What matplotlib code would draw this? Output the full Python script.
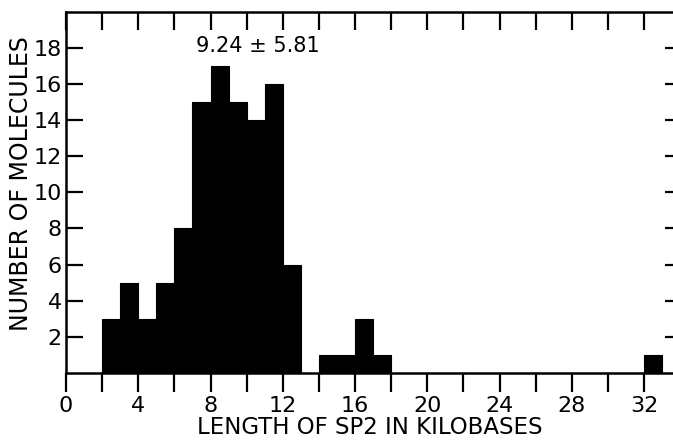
import numpy as np
import matplotlib
matplotlib.use("Agg")
import matplotlib.pyplot as plt

# histogram data (1 kb bins, left edges)
bin_left = [2, 3, 4, 5, 6, 7, 8, 9, 10, 11, 12, 14, 15, 16, 17, 32]
counts = [3, 5, 3, 5, 8, 15, 17, 15, 14, 16, 6, 1, 1, 3, 1, 1]

x_ticks = list(range(0, 34, 2))
x_labels = [str(t) if t % 4 == 0 else "" for t in x_ticks]
y_ticks = list(range(2, 20, 2))
y_labels = [str(t) for t in y_ticks]

plt.rcParams['font.family'] = ['DejaVu Sans']

fig = plt.figure(figsize=(6.73, 4.41), dpi=100)
ax = fig.add_axes([66/673, 1 - 373/441, (682 - 66)/673, (373 - 12)/441])

ax.bar(bin_left, counts, width=1.0, align='edge', color='black', edgecolor='black', linewidth=0.8)

ax.set_xlim(0, 34.1)
ax.set_ylim(0, 19.97)

for s in ax.spines.values():
    s.set_linewidth(1.8)

ax.set_xticks(x_ticks)
ax.set_xticklabels(x_labels, fontsize=16)
ax.set_yticks(y_ticks)
ax.set_yticklabels(y_labels, fontsize=16)

ax.tick_params(axis='x', which='major', direction='out', length=13.5, width=1.6, pad=3, bottom=True, top=False)
ax.tick_params(axis='y', which='major', direction='in', length=12, width=1.6, pad=3, left=True, right=True)

# top ticks point inward; draw them on a secondary axis so bottom ticks stay outward
axt = ax.secondary_xaxis('top')
axt.set_xticks(x_ticks)
axt.set_xticklabels([])
axt.tick_params(direction='in', length=13, width=1.6)
axt.spines['top'].set_visible(False)

ax.set_xlabel("LENGTH OF SP2 IN KILOBASES", fontsize=16.5, va='bottom')
ax.xaxis.set_label_coords(0.4935, -0.184)
ax.set_ylabel("NUMBER OF MOLECULES", fontsize=17)
ax.yaxis.set_label_coords(-0.054, 0.525)

ax.text(10.6, 18.1, "9.24 \u00b1 5.81", fontsize=15, ha='center', va='center')

fig.savefig("out.png", dpi=100)
